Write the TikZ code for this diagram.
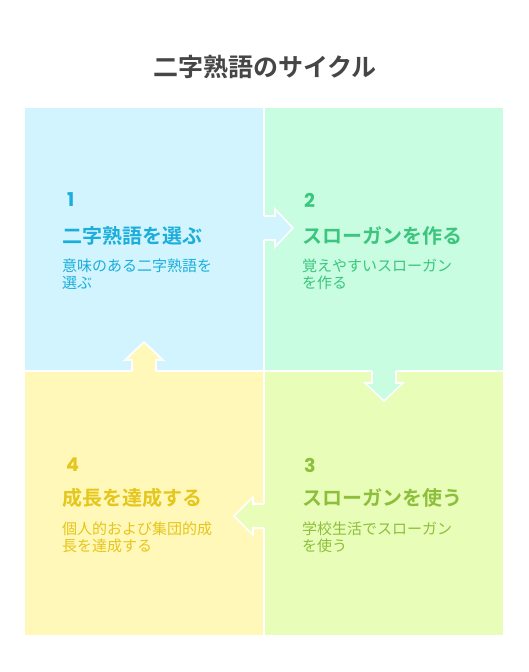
\documentclass[tikz,border=0pt]{standalone}
\usepackage{fontspec}
\newfontfamily\jp{Noto Sans CJK JP}
\newfontfamily\jpb{Noto Sans CJK JP Bold}
\newfontfamily\num{Poppins Bold}
\definecolor{bgA}{HTML}{D1F4FF}
\definecolor{bgB}{HTML}{C8FDE1}
\definecolor{bgC}{HTML}{E8FDB8}
\definecolor{bgD}{HTML}{FFF8B8}
\definecolor{txA}{HTML}{1CAEDB}
\definecolor{txB}{HTML}{3CC57E}
\definecolor{txC}{HTML}{8EBF3C}
\definecolor{txD}{HTML}{E5C61C}
\definecolor{ttl}{HTML}{464646}
\begin{document}
\begin{tikzpicture}[x=1pt,y=-1pt,
  quad/.style={rectangle,inner sep=0pt,outer sep=0pt,minimum width=238pt,minimum height=262pt,anchor=north west},
  numtxt/.style={anchor=west,inner sep=0pt,font=\num\fontsize{19}{19}\selectfont},
  headtxt/.style={anchor=west,inner sep=0pt,font=\jpb\fontsize{20}{20}\selectfont},
  desctxt/.style={anchor=north west,inner sep=0pt,align=left,font=\jp\fontsize{15}{17}\selectfont},
  arrowline/.style={draw=white,line width=1.6pt,line join=miter}]
\useasboundingbox (0,0) rectangle (528,672);
\fill[white] (0,0) rectangle (528,672);
\node[anchor=center,inner sep=0pt,text=ttl,font=\jpb\fontsize{25}{25}\selectfont] (title) at (265,67) {二字熟語のサイクル};
% quadrants
\node[quad,fill=bgA] (qa) at (25,108) {};
\node[quad,fill=bgB] (qb) at (265,108) {};
\node[quad,fill=bgC,minimum height=263pt] (qc) at (265,372) {};
\node[quad,fill=bgD,minimum height=263pt] (qd) at (25,372) {};
% arrow 1 -> 2 (right)
\fill[bgA] (262,216) -- (275,216) -- (275,209) -- (293,228) -- (275,247) -- (275,240) -- (262,240) -- cycle;
\draw[arrowline] (264,216) -- (275,216) -- (275,209) -- (293,228) -- (275,247) -- (275,240) -- (264,240);
% arrow 2 -> 3 (down)
\fill[bgB] (372,369) -- (372,383) -- (365,383) -- (384,401) -- (403,383) -- (396,383) -- (396,369) -- cycle;
\draw[arrowline] (372,371) -- (372,383) -- (365,383) -- (384,401) -- (403,383) -- (396,383) -- (396,371);
% arrow 3 -> 4 (left)
\fill[bgC] (266,504) -- (253,504) -- (253,497) -- (234,516) -- (253,535) -- (253,528) -- (266,528) -- cycle;
\draw[arrowline] (264,504) -- (253,504) -- (253,497) -- (234,516) -- (253,535) -- (253,528) -- (264,528);
% arrow 4 -> 1 (up)
\fill[bgD] (132,373) -- (132,360) -- (125,360) -- (144,342) -- (163,360) -- (156,360) -- (156,373) -- cycle;
\draw[arrowline] (132,371) -- (132,360) -- (125,360) -- (144,342) -- (163,360) -- (156,360) -- (156,371);
% texts 1
\node[numtxt,text=txA] (n1) at (67,200) {1};
\node[headtxt,text=txA] (h1) at (62,236) {二字熟語を選ぶ};
\node[desctxt,text=txA] (d1) at (62,259) {意味のある二字熟語を\\選ぶ};
% texts 2
\node[numtxt,text=txB] (n2) at (304,200) {2};
\node[headtxt,text=txB] (h2) at (302,236) {スローガンを作る};
\node[desctxt,text=txB] (d2) at (302,259) {覚えやすいスローガン\\を作る};
% texts 3
\node[numtxt,text=txC] (n3) at (304,465) {3};
\node[headtxt,text=txC] (h3) at (302,498) {スローガンを使う};
\node[desctxt,text=txC] (d3) at (302,522) {学校生活でスローガン\\を使う};
% texts 4
\node[numtxt,text=txD] (n4) at (66,465) {4};
\node[headtxt,text=txD] (h4) at (62,498) {成長を達成する};
\node[desctxt,text=txD] (d4) at (62,522) {個人的および集団的成\\長を達成する};
\end{tikzpicture}
\end{document}
